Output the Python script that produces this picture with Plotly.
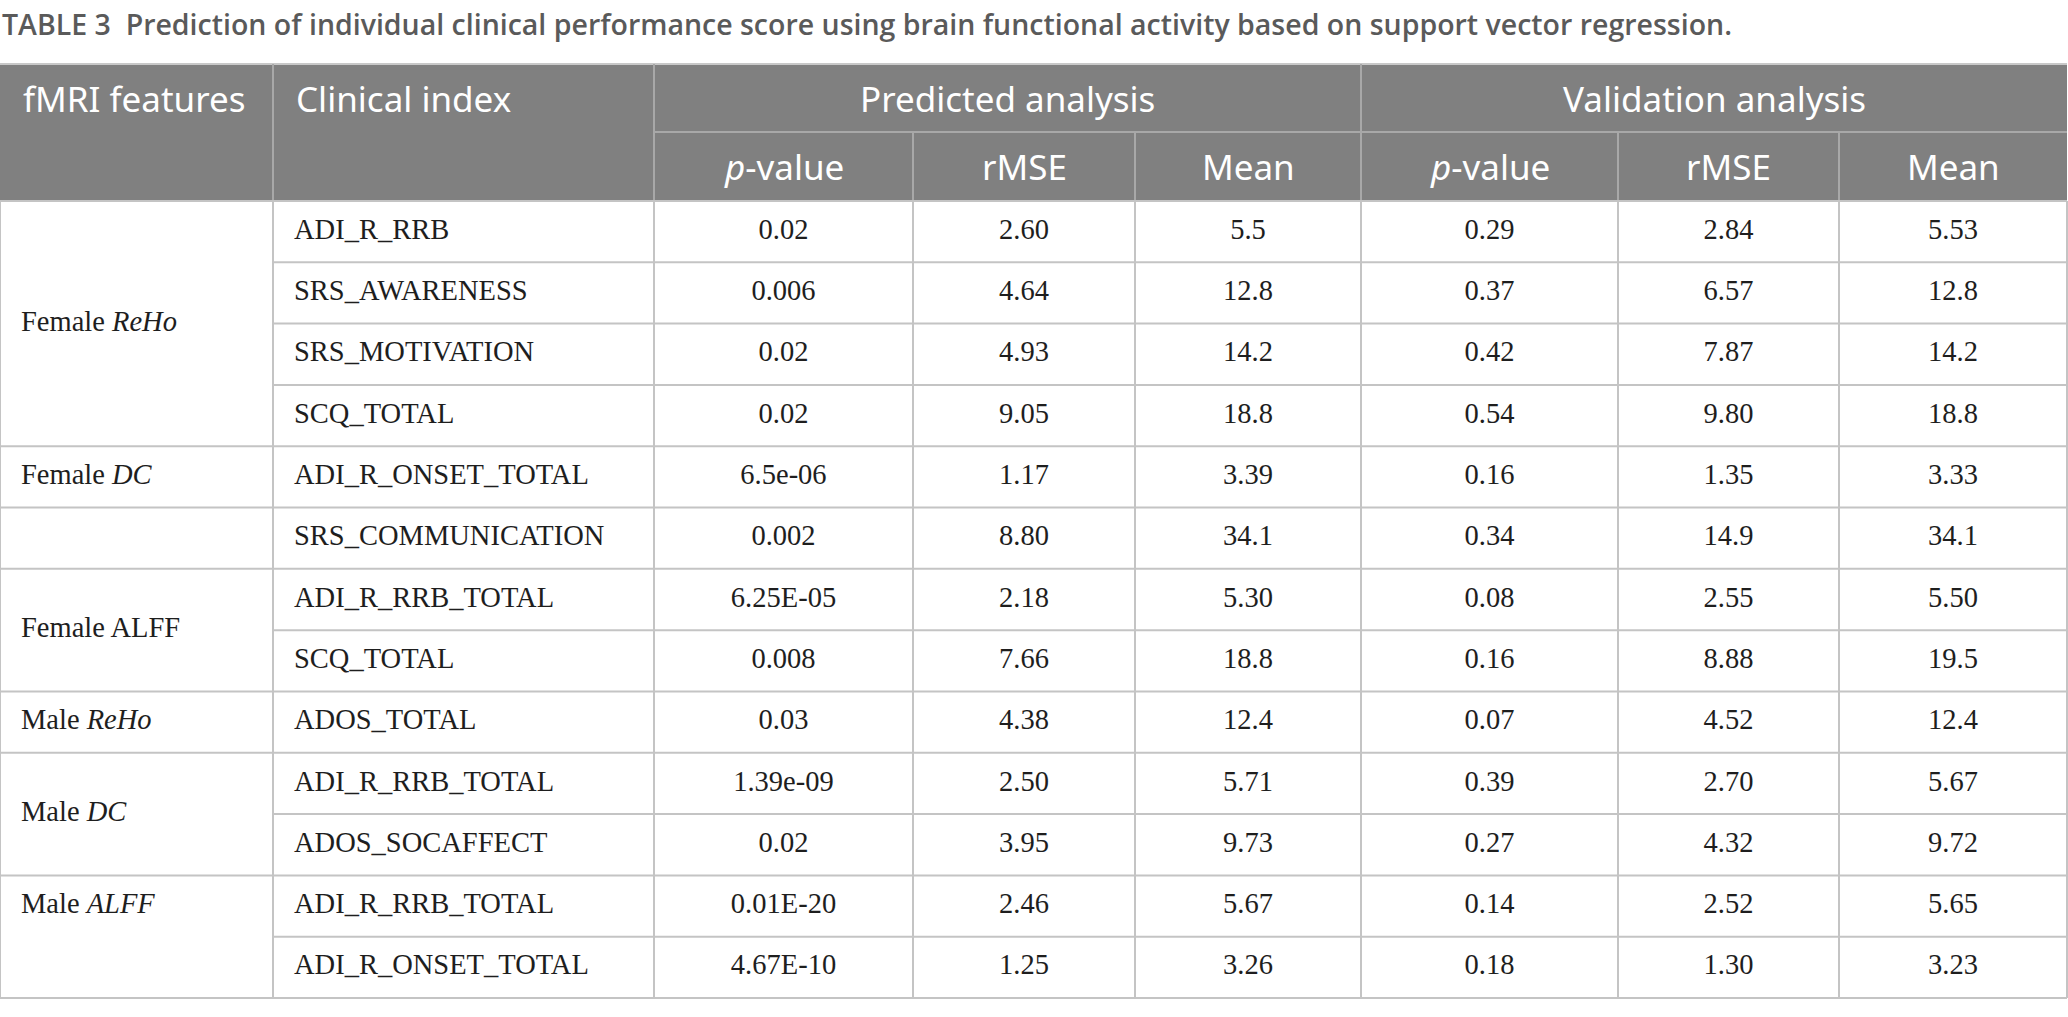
import plotly.graph_objects as go

# table content
title = "TABLE 3\u00a0\u00a0Prediction of individual clinical performance score using brain functional activity based on support vector regression."

top_headers = ["fMRI features", "Clinical index", "Predicted analysis", "Validation analysis"]
sub_headers = ["<i>p</i>-value", "rMSE", "Mean", "<i>p</i>-value", "rMSE", "Mean"]

feature_groups = ["Female <i>ReHo</i>", "Female <i>DC</i>", "", "Female ALFF",
                  "Male <i>ReHo</i>", "Male <i>DC</i>", "Male <i>ALFF</i>"]
group_sizes = [4, 1, 1, 2, 1, 2, 2]
group_valign = ["middle", "middle", "middle", "middle", "middle", "middle", "top"]

clinical_index = ["ADI_R_RRB", "SRS_AWARENESS", "SRS_MOTIVATION", "SCQ_TOTAL",
                  "ADI_R_ONSET_TOTAL", "SRS_COMMUNICATION", "ADI_R_RRB_TOTAL",
                  "SCQ_TOTAL", "ADOS_TOTAL", "ADI_R_RRB_TOTAL", "ADOS_SOCAFFECT",
                  "ADI_R_RRB_TOTAL", "ADI_R_ONSET_TOTAL"]
pred_p = ["0.02", "0.006", "0.02", "0.02", "6.5e-06", "0.002", "6.25E-05",
          "0.008", "0.03", "1.39e-09", "0.02", "0.01E-20", "4.67E-10"]
pred_rmse = ["2.60", "4.64", "4.93", "9.05", "1.17", "8.80", "2.18",
             "7.66", "4.38", "2.50", "3.95", "2.46", "1.25"]
pred_mean = ["5.5", "12.8", "14.2", "18.8", "3.39", "34.1", "5.30",
             "18.8", "12.4", "5.71", "9.73", "5.67", "3.26"]
val_p = ["0.29", "0.37", "0.42", "0.54", "0.16", "0.34", "0.08",
         "0.16", "0.07", "0.39", "0.27", "0.14", "0.18"]
val_rmse = ["2.84", "6.57", "7.87", "9.80", "1.35", "14.9", "2.55",
            "8.88", "4.52", "2.70", "4.32", "2.52", "1.30"]
val_mean = ["5.53", "12.8", "14.2", "18.8", "3.33", "34.1", "5.50",
            "19.5", "12.4", "5.67", "9.72", "5.65", "3.23"]

# layout geometry (pixels)
W, H = 2068, 1017
col_edges = [0, 273, 654, 913, 1135, 1361, 1618, 1839, 2067]
table_top, header_mid, header_bottom, table_bottom = 64, 132, 201, 998
pad = 21

HEAD_BG = "#808080"
HEAD_LINE = "#a8a8a8"
GRID = "#c4c4c4"
TEXT = "#1e1e1e"
SANS = "Noto Sans, Open Sans, sans-serif"
SERIF = "Liberation Serif, Times New Roman, serif"

n_rows = len(clinical_index)
row_h = (table_bottom - header_bottom) / n_rows


def row_y(i):
    return header_bottom + row_h * (i + 0.5)


fig = go.Figure()
shapes = []


def line(x0, y0, x1, y1, color, width=2):
    shapes.append(dict(type="line", xref="x", yref="y", x0=x0, y0=y0, x1=x1, y1=y1,
                       line=dict(color=color, width=width), layer="above"))


# header background
shapes.append(dict(type="rect", xref="x", yref="y", x0=col_edges[0], x1=col_edges[-1],
                   y0=table_top, y1=header_bottom, fillcolor=HEAD_BG,
                   line=dict(width=0), layer="below"))
line(col_edges[0], table_top, col_edges[-1], table_top, "#c8c8c8")
for x in [col_edges[1], col_edges[2], col_edges[5]]:
    line(x, table_top, x, header_bottom, HEAD_LINE)
line(col_edges[2], header_mid, col_edges[-1], header_mid, HEAD_LINE)
for x in [col_edges[3], col_edges[4], col_edges[6], col_edges[7]]:
    line(x, header_mid, x, header_bottom, HEAD_LINE)

# body grid
for x in col_edges:
    line(x, header_bottom, x, table_bottom, GRID)
for i in range(n_rows + 1):
    line(col_edges[1], header_bottom + row_h * i, col_edges[-1], header_bottom + row_h * i, GRID)
start = 0
for size in group_sizes + [0]:
    y = header_bottom + row_h * start
    line(col_edges[0], y, col_edges[1], y, GRID)
    start += size

# header text
annotations = []


def head_text(txt, x, y, anchor):
    annotations.append(dict(text=txt, x=x, y=y, xref="x", yref="y", xanchor=anchor,
                            yanchor="middle", showarrow=False,
                            font=dict(family=SANS, size=35, color="white")))


head_y = (table_top + header_mid) / 2
sub_y = (header_mid + header_bottom) / 2
head_text(top_headers[0], col_edges[0] + pad, head_y, "left")
head_text(top_headers[1], col_edges[1] + pad, head_y, "left")
head_text(top_headers[2], (col_edges[2] + col_edges[5]) / 2, head_y, "center")
head_text(top_headers[3], (col_edges[5] + col_edges[8]) / 2, head_y, "center")
for k, txt in enumerate(sub_headers):
    head_text(txt, (col_edges[k + 2] + col_edges[k + 3]) / 2, sub_y, "center")

annotations.append(dict(text=title, x=0, y=24, xref="x", yref="y",
                        xanchor="left", yanchor="middle", showarrow=False,
                        font=dict(family="Open Sans, Noto Sans, sans-serif", size=28.5,
                                  weight=600, color="#5a5a5a")))

# fMRI feature labels
gx, gy, gt = [], [], []
start = 0
for label, size, va in zip(feature_groups, group_sizes, group_valign):
    if va == "top":
        gy.append(row_y(start))
    else:
        gy.append(header_bottom + row_h * (start + size / 2))
    gx.append(col_edges[0] + pad)
    gt.append(label)
    start += size
fig.add_trace(go.Scatter(x=gx, y=gy, text=gt, mode="text", textposition="middle right",
                         textfont=dict(family=SERIF, size=28.5, color=TEXT),
                         hoverinfo="skip", showlegend=False))

# clinical index column
rows_y = [row_y(i) for i in range(n_rows)]
fig.add_trace(go.Scatter(x=[col_edges[1] + pad] * n_rows, y=rows_y, text=clinical_index,
                         mode="text", textposition="middle right",
                         textfont=dict(family=SERIF, size=28.5, color=TEXT),
                         hoverinfo="skip", showlegend=False))

# numeric columns
for k, col in enumerate([pred_p, pred_rmse, pred_mean, val_p, val_rmse, val_mean]):
    cx = (col_edges[k + 2] + col_edges[k + 3]) / 2
    fig.add_trace(go.Scatter(x=[cx] * n_rows, y=rows_y, text=col, mode="text",
                             textposition="middle center",
                             textfont=dict(family=SERIF, size=28.5, color=TEXT),
                             hoverinfo="skip", showlegend=False))

fig.update_layout(
    width=W, height=H,
    margin=dict(l=0, r=0, t=0, b=0),
    paper_bgcolor="white", plot_bgcolor="white",
    xaxis=dict(range=[0, W], visible=False, fixedrange=True),
    yaxis=dict(range=[H, 0], visible=False, fixedrange=True),
    shapes=shapes, annotations=annotations,
)

fig.write_html("out.html", config={"displayModeBar": False},
               post_script="document.body.style.margin='0';")
